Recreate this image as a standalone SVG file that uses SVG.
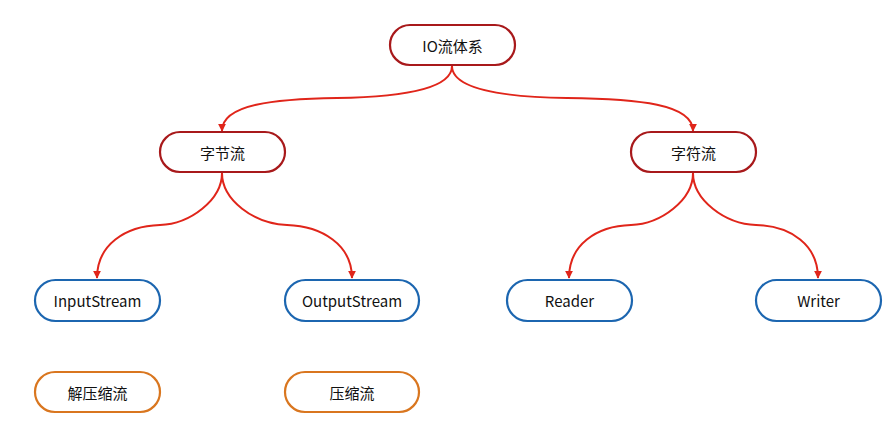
<svg xmlns="http://www.w3.org/2000/svg" width="894" height="438" viewBox="0 0 894 438">
<defs>
<style>
.n rect{fill:#fff;stroke-width:2.2}
.r rect{stroke:#a8191b}
.b rect{stroke:#1c66b0}
.o rect{stroke:#d9761f}
.n text{font-family:"Noto Sans CJK SC","Noto Sans",sans-serif;font-size:15px;fill:#111;text-anchor:middle;dominant-baseline:central}
.e path{fill:none;stroke:#e0251a;stroke-width:2;marker-end:url(#ah)}
</style>
<marker id="ah" viewBox="0 0 10 10" refX="9" refY="5" markerWidth="4" markerHeight="4" orient="auto-start-reverse" markerUnits="strokeWidth">
<path d="M0,0 L10,5 L0,10 z" fill="#e0251a"/>
</marker>
</defs>
<rect width="894" height="438" fill="#fff"/>
<g id="edges" class="e">
<path d="M452,66 C452,88 405,97 337,98 C275,99 222,104 222,131"/>
<path d="M452,66 C452,88 499,97 567,98 C639,99 693,104 693,131"/>
<path d="M222,173 C222,200 190,224 160,225 C125,226 97,245 97,278"/>
<path d="M222,173 C222,200 254,224 287,225 C322,226 352,245 352,278"/>
<path d="M693,173 C693,200 661,224 631,225 C596,226 569,245 569,278"/>
<path d="M693,173 C693,200 725,224 756,225 C791,226 818,245 818,278"/>
</g>
<g id="io" class="n r"><rect x="390" y="25" width="125" height="40" rx="20"/><text x="452.5" y="45">IO流体系</text></g>
<g id="byte" class="n r"><rect x="160" y="132" width="125" height="40" rx="20"/><text x="222.5" y="152">字节流</text></g>
<g id="char" class="n r"><rect x="631" y="132" width="125" height="40" rx="20"/><text x="693.5" y="152">字符流</text></g>
<g id="input" class="n b"><rect x="35" y="280" width="125" height="41" rx="20.5"/><text x="97.5" y="300.5">InputStream</text></g>
<g id="output" class="n b"><rect x="285" y="280" width="134" height="41" rx="20.5"/><text x="352" y="300.5">OutputStream</text></g>
<g id="reader" class="n b"><rect x="507" y="280" width="125" height="41" rx="20.5"/><text x="569.5" y="300.5">Reader</text></g>
<g id="writer" class="n b"><rect x="756" y="280" width="125" height="41" rx="20.5"/><text x="818.5" y="300.5">Writer</text></g>
<g id="decomp" class="n o"><rect x="35" y="372" width="125" height="40" rx="20"/><text x="97.5" y="392">解压缩流</text></g>
<g id="comp" class="n o"><rect x="285" y="372" width="134" height="40" rx="20"/><text x="352" y="392">压缩流</text></g>
</svg>
